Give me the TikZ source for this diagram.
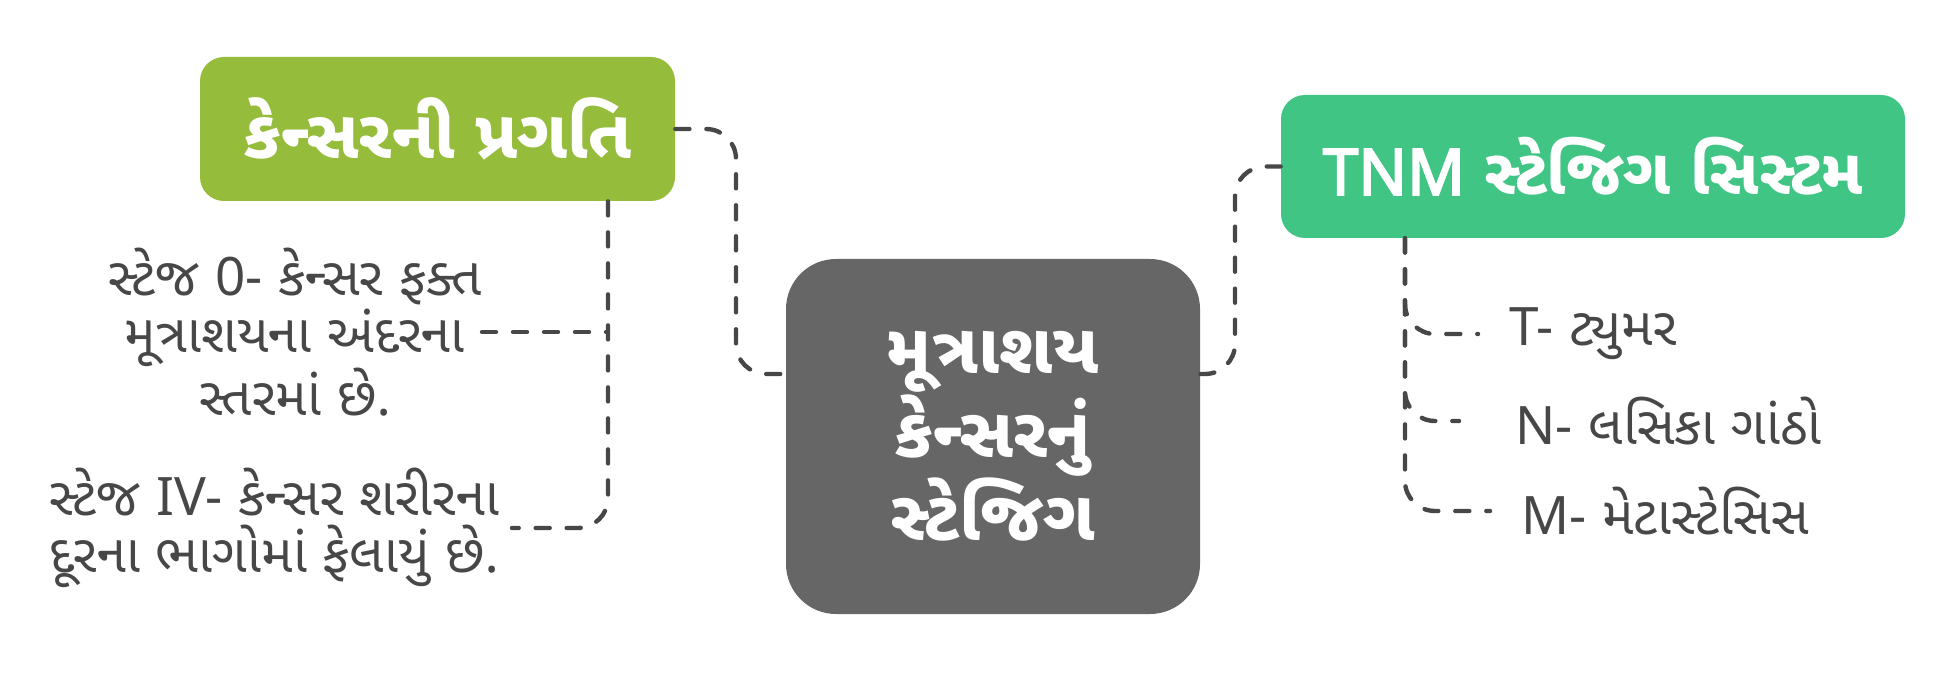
\documentclass[tikz,border=0pt]{standalone}
\usepackage{fontspec}
\newfontfamily\guj[Script=Gujarati]{Noto Sans Gujarati UI}
\newfontfamily\lat{Noto Sans}
\newfontfamily\latb{Noto Sans}[FakeBold=3]
\usetikzlibrary{calc}
\definecolor{gA}{HTML}{95BC3B}
\definecolor{gB}{HTML}{40C585}
\definecolor{gC}{HTML}{666666}
\definecolor{tc}{HTML}{474747}
\definecolor{lc}{HTML}{474747}
\begin{document}
\begin{tikzpicture}[x=0.5pt,y=-0.5pt,
  box/.style={rounded corners=12pt, inner sep=0pt, text=white, font=\guj\bfseries\fontsize{34}{37.5}\selectfont, align=center},
  conn/.style={draw=lc, line width=2.2pt, dash pattern=on 7pt off 8.5pt, line cap=round, rounded corners=15pt},
  lbl/.style={text=tc, inner sep=0pt, font=\guj\fontsize{26.5}{28.5}\selectfont, align=center}]
\useasboundingbox (0,0) rectangle (1955,695);
\node[box, fill=gA, minimum width=237.5pt, minimum height=72pt] (prog) at (437.5,129) {કેન્સરની પ્રગતિ};
\node[box, fill=gB, minimum width=312pt, minimum height=71.5pt, font=\guj\bfseries\fontsize{32}{37.5}\selectfont] (tnm) at (1593,166.5) {{\latb TNM} સ્ટેજિગ સિસ્ટમ};
\node[box, fill=gC, rounded corners=25pt, minimum width=207pt, minimum height=177.5pt, font=\guj\bfseries\fontsize{35}{37.5}\selectfont] (main) at (993,436.5) {મૂત્રાશય\\કેન્સરનું\\સ્ટેજિગ};
\node[lbl, anchor=east] (s0) at (482,332) {સ્ટેજ {\lat 0-} કેન્સર ફક્ત\\મૂત્રાશયના અંદરના\\સ્તરમાં છે.};
\node[lbl, anchor=east] (s4) at (500,528) {સ્ટેજ {\lat IV-} કેન્સર શરીરના\\દૂરના ભાગોમાં ફેલાયું છે.};
\node[lbl, anchor=west] (t) at (1509,334) {{\lat T-} ટ્યુમર};
\node[lbl, anchor=west] (n) at (1515,421) {{\lat N-} લસિકા ગાંઠો};
\node[lbl, anchor=west] (m) at (1521,511) {{\lat M-} મેટાસ્ટેસિસ};
\coordinate (lt) at (608,0);
\coordinate (rt) at (1405,0);
\coordinate (ly) at (0,374);
\draw[conn] (s0.east) -- (s0.east -| lt);
\draw[conn] (prog.south -| lt) |- ([xshift=6pt]s4.east);
\draw[conn] (prog.east) -| (736,374) -- (main.west |- ly);
\draw[conn] (main.east |- ly) -| (1235,166.5) -- (tnm.west);
\draw[conn] (tnm.south -| rt) |- ([xshift=-15.5pt]t.west);
\draw[conn] (tnm.south -| rt) |- ([xshift=-28pt]n.west);
\draw[conn] (tnm.south -| rt) |- ([xshift=-15.5pt]m.west);
\end{tikzpicture}
\end{document}
